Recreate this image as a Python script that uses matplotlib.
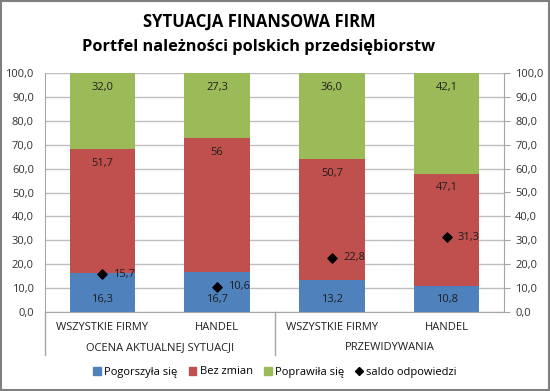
import numpy as np
import matplotlib.pyplot as plt
from matplotlib.patches import Rectangle
from matplotlib.lines import Line2D

# dane
kategorie = ['WSZYSTKIE FIRMY', 'HANDEL', 'WSZYSTKIE FIRMY', 'HANDEL']
grupy = ['OCENA AKTUALNEJ SYTUACJI', 'PRZEWIDYWANIA']
pogorszyla = [16.3, 16.7, 13.2, 10.8]
bez_zmian = [51.7, 56.0, 50.7, 47.1]
poprawila = [32.0, 27.3, 36.0, 42.1]
saldo = [15.7, 10.6, 22.8, 31.3]
bez_zmian_etykiety = ['51,7', '56', '50,7', '47,1']

C_BLUE = '#4F81BD'
C_RED = '#C0504D'
C_GREEN = '#9BBB59'
FONT = ['Open Sans', 'DejaVu Sans']

plt.rcParams['font.family'] = FONT


def fmt(v):
    return f"{v:.1f}".replace('.', ',')


fig = plt.figure(figsize=(5.5, 3.91), dpi=100)
ax = fig.add_axes([45 / 550, 1 - 312 / 391, (504 - 45) / 550, (312 - 73) / 391])

x = np.arange(len(kategorie))
w = 0.57
b1 = np.array(pogorszyla)
b2 = b1 + np.array(bez_zmian)

ax.bar(x, pogorszyla, w, color=C_BLUE, zorder=2)
ax.bar(x, bez_zmian, w, bottom=b1, color=C_RED, zorder=2)
ax.bar(x, poprawila, w, bottom=b2, color=C_GREEN, zorder=2)
ax.scatter(x, saldo, marker='D', s=22, color='black', zorder=4)

for i in range(len(x)):
    ax.text(x[i], 5.4, fmt(pogorszyla[i]), ha='center', va='center', fontsize=8, color='#1F1F1F', zorder=5)
    ax.text(x[i], b2[i] - 6, bez_zmian_etykiety[i], ha='center', va='center', fontsize=8, color='#1F1F1F', zorder=5)
    ax.text(x[i], 100 - 6, fmt(poprawila[i]), ha='center', va='center', fontsize=8, color='#1F1F1F', zorder=5)
    ax.annotate(fmt(saldo[i]), (x[i], saldo[i]), xytext=(8, 0), textcoords='offset points',
                ha='left', va='center', fontsize=8, color='#1F1F1F', zorder=5)

ax.set_xlim(-0.5, 3.5)
ax.set_ylim(0, 100)
yt = np.arange(0, 101, 10)
ax.set_yticks(yt)
ax.set_yticklabels([fmt(v) for v in yt], fontsize=8, color='#333333')
ax.tick_params(axis='y', length=0, pad=8)
ax.set_xticks(x)
ax.set_xticklabels(kategorie, fontsize=8, color='#1F1F1F')
ax.tick_params(axis='x', length=0, pad=7)
ax.grid(axis='y', color='#BFBFBF', linewidth=1, zorder=0)
ax.set_axisbelow(True)
for s in ['top', 'right']:
    ax.spines[s].set_visible(False)
for s in ['left', 'bottom']:
    ax.spines[s].set_color('#A6A6A6')

ax2 = ax.twinx()
ax2.set_ylim(0, 100)
ax2.set_yticks(yt)
ax2.set_yticklabels([fmt(v) for v in yt], fontsize=8, color='#333333')
ax2.tick_params(axis='y', length=4, color='#A6A6A6', pad=4)
for s in ['top', 'left', 'bottom']:
    ax2.spines[s].set_visible(False)
ax2.spines['right'].set_color('#A6A6A6')

# grupy kategorii
for j, g in enumerate(grupy):
    ax.text(0.25 + 0.5 * j, -0.15, g, transform=ax.transAxes, ha='center', va='center',
            fontsize=8, color='#1F1F1F')
for xs in [0, 0.5]:
    ax.plot([xs, xs], [0, -0.18], transform=ax.transAxes, color='#A6A6A6', lw=1, clip_on=False)

fig.text(259 / 550, 1 - 22 / 391, 'SYTUACJA FINANSOWA FIRM', ha='center', va='center',
         fontsize=12, fontweight='bold')
fig.text(259 / 550, 1 - 47 / 391, 'Portfel należności polskich przedsiębiorstw', ha='center', va='center',
         fontsize=11.8, fontweight='bold')

handles = [
    Rectangle((0, 0), 1, 1, color=C_BLUE),
    Rectangle((0, 0), 1, 1, color=C_RED),
    Rectangle((0, 0), 1, 1, color=C_GREEN),
    Line2D([], [], marker='D', color='black', linestyle='none', markersize=4),
]
fig.legend(handles, ['Pogorszyła się', 'Bez zmian', 'Poprawiła się', 'saldo odpowiedzi'],
           loc='center', bbox_to_anchor=(0.5, 1 - 372 / 391), ncol=4, frameon=False,
           fontsize=8, handlelength=0.7, handleheight=0.7, handletextpad=0.3, columnspacing=1.0)

fig.patches.append(Rectangle((0.002, 0.003), 0.996, 0.994, transform=fig.transFigure,
                             fill=False, edgecolor='#7F7F7F', linewidth=1.5))

fig.savefig('out.png', dpi=100)
